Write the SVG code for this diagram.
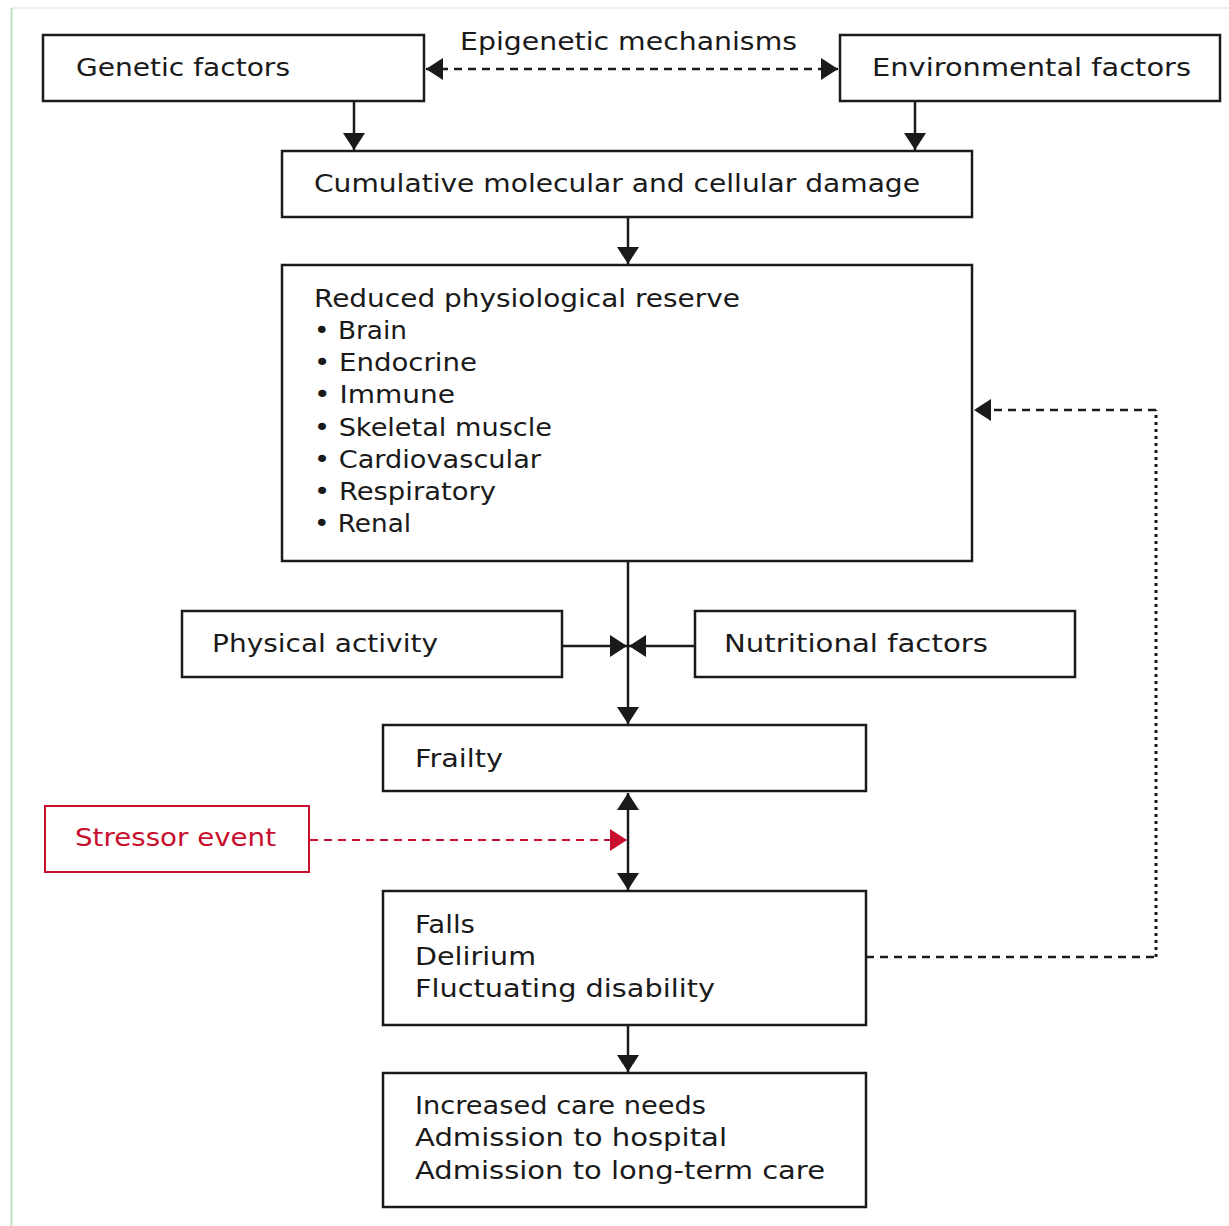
<svg xmlns="http://www.w3.org/2000/svg" width="1229" height="1226" viewBox="0 0 1229 1226">
<style>
.box{fill:#fff;stroke:#1a1a1a;stroke-width:2.5}
.red{fill:#fff;stroke:#c8102e;stroke-width:2}
.t{font-family:"DejaVu Sans","Open Sans",sans-serif;font-size:25px;fill:#1a1a1a}
.tr{font-family:"DejaVu Sans","Open Sans",sans-serif;font-size:25px;fill:#c8102e}
.ln{fill:none;stroke:#1a1a1a;stroke-width:2.5}
.dash{fill:none;stroke:#1a1a1a;stroke-width:2.5;stroke-dasharray:8 6}
.dot{fill:none;stroke:#1a1a1a;stroke-width:3;stroke-dasharray:3 4}
.rdash{fill:none;stroke:#c8102e;stroke-width:2;stroke-dasharray:8 6}
</style>
<defs>
<marker id="ah" viewBox="0 0 17 22" refX="17" refY="11" markerWidth="17" markerHeight="22" markerUnits="userSpaceOnUse" orient="auto-start-reverse"><path d="M0,0 L17,11 L0,22 z" fill="#1a1a1a"/></marker>
<marker id="ahr" viewBox="0 0 17 22" refX="17" refY="11" markerWidth="17" markerHeight="22" markerUnits="userSpaceOnUse" orient="auto"><path d="M0,0 L17,11 L0,22 z" fill="#c8102e"/></marker>
</defs>
<rect width="1229" height="1226" fill="#fff"/>
<line x1="12" y1="8" x2="1229" y2="8" stroke="#e8e8e8" stroke-width="1.5"/>
<line x1="11.5" y1="8" x2="11.5" y2="1226" stroke="#bfe3bf" stroke-width="2"/>

<g id="connectors">
<line class="dash" x1="426" y1="69" x2="838" y2="69" marker-start="url(#ah)" marker-end="url(#ah)"/>
<line class="ln" x1="354" y1="101" x2="354" y2="150" marker-end="url(#ah)"/>
<line class="ln" x1="915" y1="101" x2="915" y2="150" marker-end="url(#ah)"/>
<line class="ln" x1="628" y1="217" x2="628" y2="264" marker-end="url(#ah)"/>
<line class="ln" x1="628" y1="561" x2="628" y2="724" marker-end="url(#ah)"/>
<line class="ln" x1="562" y1="646" x2="627" y2="646" marker-end="url(#ah)"/>
<line class="ln" x1="695" y1="646" x2="629" y2="646" marker-end="url(#ah)"/>
<line class="ln" x1="628" y1="793" x2="628" y2="890" marker-start="url(#ah)" marker-end="url(#ah)"/>
<line class="rdash" x1="310" y1="840" x2="627" y2="840" marker-end="url(#ahr)"/>
<line class="ln" x1="628" y1="1025" x2="628" y2="1072" marker-end="url(#ah)"/>
<polyline class="dash" points="866,957 1156,957"/>
<polyline class="dot" points="1156,957 1156,410"/>
<line class="dash" x1="1156" y1="410" x2="974" y2="410" marker-end="url(#ah)"/>
</g>

<g id="genetic"><rect class="box" x="43" y="35" width="381" height="66"/><text class="t" x="76" y="76" textLength="214" lengthAdjust="spacingAndGlyphs">Genetic factors</text></g>
<g id="epigenetic"><text class="t" x="460" y="50" textLength="337" lengthAdjust="spacingAndGlyphs">Epigenetic mechanisms</text></g>
<g id="environmental"><rect class="box" x="840" y="35" width="380" height="66"/><text class="t" x="872" y="76" textLength="319" lengthAdjust="spacingAndGlyphs">Environmental factors</text></g>
<g id="cumulative"><rect class="box" x="282" y="151" width="690" height="66"/><text class="t" x="314" y="192" textLength="606" lengthAdjust="spacingAndGlyphs">Cumulative molecular and cellular damage</text></g>
<g id="reserve"><rect class="box" x="282" y="265" width="690" height="296"/>
<text class="t" x="314" y="307" textLength="426" lengthAdjust="spacingAndGlyphs">Reduced physiological reserve</text>
<text class="t" x="314" y="339" textLength="93" lengthAdjust="spacingAndGlyphs">• Brain</text>
<text class="t" x="314" y="371" textLength="163" lengthAdjust="spacingAndGlyphs">• Endocrine</text>
<text class="t" x="314" y="403" textLength="141" lengthAdjust="spacingAndGlyphs">• Immune</text>
<text class="t" x="314" y="436" textLength="238" lengthAdjust="spacingAndGlyphs">• Skeletal muscle</text>
<text class="t" x="314" y="468" textLength="227" lengthAdjust="spacingAndGlyphs">• Cardiovascular</text>
<text class="t" x="314" y="500" textLength="182" lengthAdjust="spacingAndGlyphs">• Respiratory</text>
<text class="t" x="314" y="532" textLength="97" lengthAdjust="spacingAndGlyphs">• Renal</text>
</g>
<g id="physical"><rect class="box" x="182" y="611" width="380" height="66"/><text class="t" x="212" y="652" textLength="226" lengthAdjust="spacingAndGlyphs">Physical activity</text></g>
<g id="nutritional"><rect class="box" x="695" y="611" width="380" height="66"/><text class="t" x="724" y="652" textLength="264" lengthAdjust="spacingAndGlyphs">Nutritional factors</text></g>
<g id="frailty"><rect class="box" x="383" y="725" width="483" height="66"/><text class="t" x="415" y="767" textLength="88" lengthAdjust="spacingAndGlyphs">Frailty</text></g>
<g id="stressor"><rect class="red" x="45" y="806" width="264" height="66"/><text class="tr" x="75" y="846" textLength="201" lengthAdjust="spacingAndGlyphs">Stressor event</text></g>
<g id="falls"><rect class="box" x="383" y="891" width="483" height="134"/>
<text class="t" x="415" y="933" textLength="60" lengthAdjust="spacingAndGlyphs">Falls</text>
<text class="t" x="415" y="965" textLength="121" lengthAdjust="spacingAndGlyphs">Delirium</text>
<text class="t" x="415" y="997" textLength="300" lengthAdjust="spacingAndGlyphs">Fluctuating disability</text>
</g>
<g id="care"><rect class="box" x="383" y="1073" width="483" height="134"/>
<text class="t" x="415" y="1114" textLength="291" lengthAdjust="spacingAndGlyphs">Increased care needs</text>
<text class="t" x="415" y="1146" textLength="312" lengthAdjust="spacingAndGlyphs">Admission to hospital</text>
<text class="t" x="415" y="1179" textLength="410" lengthAdjust="spacingAndGlyphs">Admission to long-term care</text>
</g>
</svg>
